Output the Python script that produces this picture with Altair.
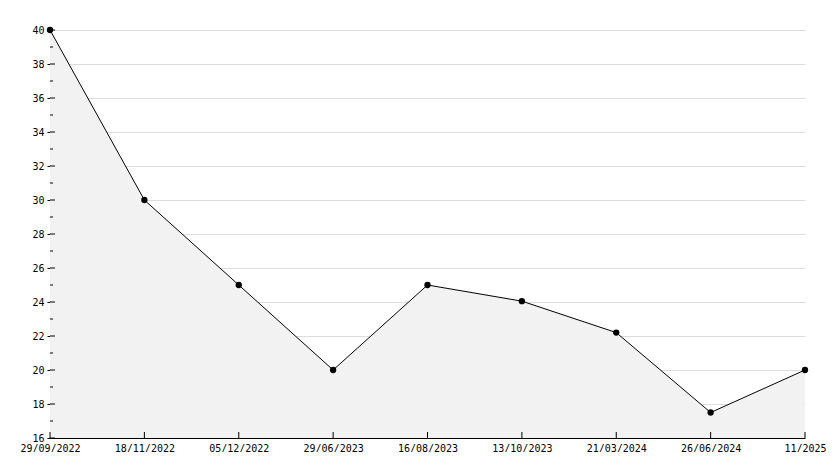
import altair as alt
import pandas as pd

dates = ["29/09/2022", "18/11/2022", "05/12/2022", "29/06/2023", "16/08/2023",
         "13/10/2023", "21/03/2024", "26/06/2024", "11/2025"]
values = [40, 30, 25, 20, 25, 24.05, 22.2, 17.5, 20]
major_ticks = list(range(16, 41, 2))
minor_ticks = list(range(17, 40, 2))

df = pd.DataFrame({"date": dates, "value": values})
major_df = pd.DataFrame({"v": major_ticks})
minor_df = pd.DataFrame({"v": minor_ticks})
xtick_df = pd.DataFrame({"date": dates})

W, H = 755, 408
FONT = "DejaVu Sans Mono"

xs = alt.Scale(type="point", padding=0, domain=dates)
ys = alt.Scale(domain=[16, 40], zero=False, nice=False)

x_axis = alt.Axis(title=None, labelAngle=0, ticks=False, domainColor="#000",
                  labelFont=FONT, labelFontSize=10, labelColor="#000",
                  labelPadding=5, grid=False, labelOverlap=False, labelBound=False)
y_axis = alt.Axis(title=None, values=major_ticks, tickSize=3, tickColor="#000",
                  domainColor="#000", labelFont=FONT, labelFontSize=10,
                  labelColor="#000", labelPadding=3, grid=True,
                  gridColor="#dddddd", labelOverlap=False, tickCount=13)

x_enc = alt.X("date:N", scale=xs, sort=None, axis=x_axis)
y_enc = alt.Y("value:Q", scale=ys, axis=y_axis)

area = alt.Chart(df).mark_area(color="#f2f2f2", opacity=1).encode(
    x=x_enc, y=y_enc, y2=alt.datum(16))
line = alt.Chart(df).mark_line(color="#000", strokeWidth=1).encode(x=x_enc, y=y_enc)
pts = alt.Chart(df).mark_point(filled=True, color="#000", size=40, opacity=1).encode(
    x=x_enc, y=y_enc)

major_t = alt.Chart(major_df).mark_rule(color="#000", strokeWidth=1).encode(
    y=alt.Y("v:Q", scale=ys, axis=y_axis), x=alt.value(0), x2=alt.value(5))
minor_t = alt.Chart(minor_df).mark_rule(color="#000", strokeWidth=1).encode(
    y=alt.Y("v:Q", scale=ys, axis=y_axis), x=alt.value(0), x2=alt.value(3))
x_t = alt.Chart(xtick_df).mark_rule(color="#000", strokeWidth=1).encode(
    x=x_enc, y=alt.value(H - 6), y2=alt.value(H))

chart = alt.layer(area, line, pts, major_t, minor_t, x_t).properties(
    width=W, height=H,
    autosize=alt.AutoSizeParams(type="none"),
    padding={"left": 42, "top": 22, "right": 21, "bottom": 14},
    background="white",
).configure_view(stroke=None)

chart.save("out.html", embed_options={"renderer": "svg", "actions": False})
